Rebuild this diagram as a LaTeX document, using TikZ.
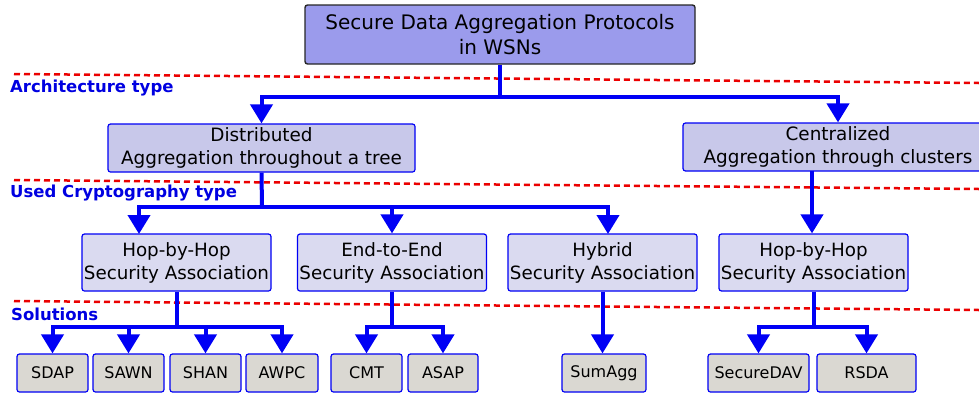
\documentclass[tikz,border=0pt]{standalone}
\usepackage{fontspec}
\setmainfont{DejaVu Sans}
\usetikzlibrary{arrows.meta}
\definecolor{topfill}{RGB}{155,155,236}
\definecolor{archfill}{RGB}{200,200,234}
\definecolor{cryptfill}{RGB}{218,218,240}
\definecolor{solfill}{RGB}{218,216,210}
\definecolor{connblue}{RGB}{0,0,245}
\definecolor{lblblue}{RGB}{0,0,225}
\definecolor{dashred}{RGB}{235,0,0}
\tikzset{
  x=1pt, y=-1pt,
  topbox/.style={draw=black!85, line width=1.4pt, fill=topfill, rounded corners=2.5pt,
     align=center, font=\fontsize{20}{24.5}\selectfont, inner sep=0pt},
  archbox/.style={draw=connblue, line width=1.2pt, fill=archfill, rounded corners=2.5pt,
     align=center, font=\fontsize{18.4}{23}\selectfont, inner sep=0pt},
  cryptbox/.style={draw=connblue, line width=1.2pt, fill=cryptfill, rounded corners=2.5pt,
     align=center, font=\fontsize{18.3}{23}\selectfont, inner sep=0pt,
     minimum width=189pt, minimum height=57pt},
  solbox/.style={draw=connblue, line width=1.2pt, fill=solfill, rounded corners=2.5pt,
     font=\fontsize{16}{19}\selectfont, inner sep=0pt, minimum height=38pt},
  conn/.style={draw=connblue, line width=4pt},
  arr/.style={conn, -{Triangle[width=22pt,length=19pt]}},
  sepline/.style={draw=dashred, line width=2.5pt, dash pattern=on 6pt off 4pt},
  lvl/.style={text=lblblue, font=\fontsize{16.5}{19}\selectfont\bfseries, anchor=west, inner sep=0pt},
}
\begin{document}
\begin{tikzpicture}
\useasboundingbox (0,0) rectangle (979,394);

% separator lines
\coordinate (s1a) at (14,74);  \coordinate (s1b) at (979,83);
\coordinate (s2a) at (14,180); \coordinate (s2b) at (979,189);
\coordinate (s3a) at (14,301); \coordinate (s3b) at (979,310);
\draw[sepline] (s1a) -- (s1b);
\draw[sepline] (s2a) -- (s2b);
\draw[sepline] (s3a) -- (s3b);

% level labels
\node[lvl] (l1) at (10,88) {Architecture type};
\node[lvl] (l2) at (10,193) {Used Cryptography type};
\node[lvl] (l3) at (11,314) {Solutions};

% nodes
\node[topbox, minimum width=390pt, minimum height=59pt] (top) at (500,34.5)
  {Secure Data Aggregation Protocols\\in WSNs};
\node[archbox, minimum width=307pt, minimum height=48pt] (dist) at (261.5,148)
  {Distributed\\Aggregation throughout a tree};
\node[archbox, minimum width=310pt, minimum height=48pt] (cent) at (838,147)
  {Centralized\\Aggregation through clusters};

\node[cryptbox] (hbh1) at (176.5,262.5) {Hop-by-Hop\\Security Association};
\node[cryptbox] (e2e) at (392,262.5) {End-to-End\\Security Association};
\node[cryptbox] (hyb) at (602.5,262.5) {Hybrid\\Security Association};
\node[cryptbox] (hbh2) at (813.5,262.5) {Hop-by-Hop\\Security Association};

\node[solbox, minimum width=71pt] (sdap) at (52.5,373) {SDAP};
\node[solbox, minimum width=71pt] (sawn) at (128.5,373) {SAWN};
\node[solbox, minimum width=71pt] (shan) at (205.5,373) {SHAN};
\node[solbox, minimum width=72pt] (awpc) at (282,373) {AWPC};
\node[solbox, minimum width=71pt] (cmt) at (366.5,373) {CMT};
\node[solbox, minimum width=70pt] (asap) at (443,373) {ASAP};
\node[solbox, minimum width=84pt] (sum) at (604,373) {SumAgg};
\node[solbox, minimum width=101pt] (sdav) at (758.5,373) {SecureDAV};
\node[solbox, minimum width=99pt] (rsda) at (866.5,373) {RSDA};

% junctions
\coordinate (j0) at (500,97);
\coordinate (j1) at (262,207);
\coordinate (j2) at (176.5,327);
\coordinate (j3) at (392,327);
\coordinate (j4) at (813.5,327);
\coordinate (hbh1in) at (139,234);
\coordinate (hybin) at (608,234);
\coordinate (centout) at (812,171);

% connectors: root
\draw[conn] (top.south) -- (j0);
\draw[arr] (j0) -| (dist.north);
\draw[arr] (j0) -| (cent.north);

% distributed
\draw[conn] (dist.south) -- (j1);
\draw[arr] (j1) -| (hbh1in);
\draw[arr] (j1) -| (e2e.north);
\draw[arr] (j1) -| (hybin);

% centralized
\draw[arr] (centout) -- (centout |- hbh2.north);

% solutions
\draw[conn] (hbh1.south) -- (j2);
\draw[arr] (j2) -| (sdap.north);
\draw[arr] (j2) -| (sawn.north);
\draw[arr] (j2) -| (shan.north);
\draw[arr] (j2) -| (awpc.north);

\draw[conn] (e2e.south) -- (j3);
\draw[arr] (j3) -| (cmt.north);
\draw[arr] (j3) -| (asap.north);

\draw[arr] (hyb.south) -- (hyb.south |- sum.north);

\draw[conn] (hbh2.south) -- (j4);
\draw[arr] (j4) -| (sdav.north);
\draw[arr] (j4) -| (rsda.north);
\end{tikzpicture}
\end{document}
